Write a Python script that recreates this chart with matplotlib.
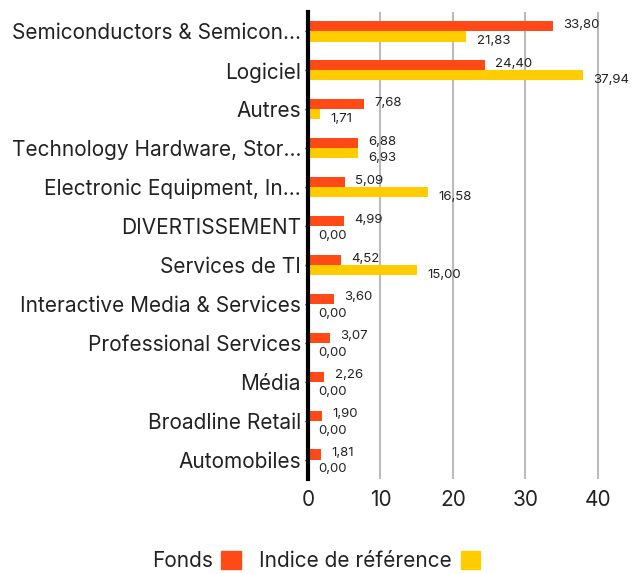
import matplotlib.pyplot as plt
from matplotlib.patches import Patch
import numpy as np

# Data
categories = ["Semiconductors & Semicon...", "Logiciel", "Autres",
              "Technology Hardware, Stor...", "Electronic Equipment, In...",
              "DIVERTISSEMENT", "Services de TI", "Interactive Media & Services",
              "Professional Services", "Média", "Broadline Retail", "Automobiles"]
fonds = [33.80, 24.40, 7.68, 6.88, 5.09, 4.99, 4.52, 3.60, 3.07, 2.26, 1.90, 1.81]
indice = [21.83, 37.94, 1.71, 6.93, 16.58, 0.00, 15.00, 0.00, 0.00, 0.00, 0.00, 0.00]
x_ticks = [0, 10, 20, 30, 40]

c_fonds = "#FF4A17"
c_indice = "#FFCC00"

plt.rcParams['font.family'] = ['Inter', 'DejaVu Sans']

fig = plt.figure(figsize=(6.32, 5.74), dpi=100)
ax = fig.add_axes([308 / 632, 95 / 574, 292 / 632, 467 / 574])

y = np.arange(len(categories))
h = 0.26
ax.barh(y - h / 2, fonds, height=h, color=c_fonds, zorder=3)
ax.barh(y + h / 2, indice, height=h, color=c_indice, zorder=3)

def fmt(v):
    return f"{v:.2f}".replace(".", ",")

for yi, v in zip(y, fonds):
    ax.annotate(fmt(v), (v, yi - h / 2), xytext=(7.5, 1), textcoords="offset points",
                ha="left", va="center", fontsize=9.5, color="#222222", zorder=4)
for yi, v in zip(y, indice):
    ax.annotate(fmt(v), (v, yi + h / 2), xytext=(7.5, -3.5), textcoords="offset points",
                ha="left", va="center", fontsize=9.5, color="#222222", zorder=4)

ax.set_ylim(len(categories) - 0.5, -0.5)
ax.set_xlim(0, 40.3)
ax.set_yticks(y)
ax.set_yticklabels(categories, fontsize=15, color="#222222")
ax.set_xticks(x_ticks)
ax.set_xticklabels([str(t) for t in x_ticks], fontsize=15, color="#222222")
ax.tick_params(axis="x", length=0, pad=8)
ax.tick_params(axis="y", length=2, width=1, pad=3)
ax.grid(axis="x", color="#BBBBBB", linewidth=1.5, zorder=0)

for s in ["top", "right", "bottom"]:
    ax.spines[s].set_visible(False)
ax.spines["left"].set_linewidth(3)
ax.spines["left"].set_color("black")
ax.spines["left"].set_zorder(5)

handles = [Patch(color=c_fonds), Patch(color=c_indice)]
fig.legend(handles, ["Fonds", "Indice de référence"], loc="center",
           bbox_to_anchor=(316 / 632, 1 - 561 / 574), ncol=2, frameon=False,
           markerfirst=False, fontsize=15, handlelength=0.95, handleheight=0.95,
           columnspacing=0.9, handletextpad=0.4, labelcolor="#222222")

plt.savefig("out.png", dpi=100)
